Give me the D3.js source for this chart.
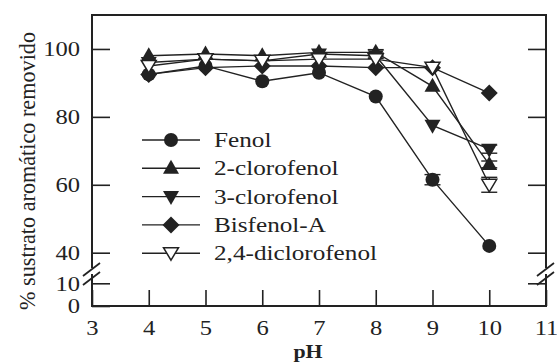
<!DOCTYPE html>
<html><head><meta charset="utf-8">
<script src="https://cdn.jsdelivr.net/npm/d3@7/dist/d3.min.js"></script>
<style>body{margin:0;background:#fff}svg{display:block}text{font-family:"Liberation Serif","Times New Roman",serif;fill:#222}</style>
</head><body>
<svg id="c" width="557" height="362"></svg>
<script>
const pH = [4,5,6,7,8,9,10];
const xTicks = [3,4,5,6,7,8,9,10,11];
const yTopTicks = [40,60,80,100];
const yBotTicks = [0,10];
const fenol = [92.5,95,90.5,93,86,61.5,42];
const cloro2 = [98,98.5,98,99,99,89,66];
const cloro3 = [96,97,96.5,98.5,98,77.5,70.5];
const bisfenol = [92.5,94.5,95,95,94.5,94.5,87];
const dicloro24 = [95,97,96.5,97,97,94.5,60];
const errFenol = [0,0,0,0,0,1.5,0];
const errCloro2 = [0,0,0,0,0.8,0,1];
const errCloro3 = [0,0,0,0,0.8,0,1.2];
const errBis = [0,0,0,0,0,0,0];
const err24 = [0,0,0,0,0,0,2.2];
const names = ["Fenol","2-clorofenol","3-clorofenol","Bisfenol-A","2,4-diclorofenol"];

const series = [
  {name:names[0], v:fenol, e:errFenol, m:"circle"},
  {name:names[1], v:cloro2, e:errCloro2, m:"up"},
  {name:names[2], v:cloro3, e:errCloro3, m:"down"},
  {name:names[3], v:bisfenol, e:errBis, m:"diamond"},
  {name:names[4], v:dicloro24, e:err24, m:"open"}
];

const L=92, R=546, T=15, B=306;
const SX=1.17;
const x = d3.scaleLinear().domain([3,11]).range([L,R]);
const yTop = d3.scaleLinear().domain([40,110]).range([252.7,T]);
const yBot = d3.scaleLinear().domain([0,10]).range([B,283.3]);
const svg = d3.select("#c");
const ink="#222";

function marker(g, type, cx, cy){
  if(type==="circle") g.append("circle").attr("cx",cx).attr("cy",cy).attr("r",7).attr("fill",ink);
  else if(type==="up") g.append("path").attr("d",`M${cx},${cy-8.5}L${cx+8},${cy+5.5}L${cx-8},${cy+5.5}Z`).attr("fill",ink);
  else if(type==="down") g.append("path").attr("d",`M${cx},${cy+8.5}L${cx+8},${cy-5.5}L${cx-8},${cy-5.5}Z`).attr("fill",ink);
  else if(type==="diamond") g.append("path").attr("d",`M${cx},${cy-8.5}L${cx+8.5},${cy}L${cx},${cy+8.5}L${cx-8.5},${cy}Z`).attr("fill",ink);
  else g.append("path").attr("d",`M${cx},${cy+7}L${cx+7.5},${cy-5.5}L${cx-7.5},${cy-5.5}Z`).attr("fill","#fff").attr("stroke",ink).attr("stroke-width",1.5);
}

// data lines
const line = d3.line().x((d,i)=>x(pH[i])).y(d=>yTop(d));
series.forEach(s=>{
  svg.append("path").datum(s.v).attr("d",line).attr("fill","none").attr("stroke",ink).attr("stroke-width",1.4);
});
// error bars
series.forEach(s=>{
  s.v.forEach((v,i)=>{
    if(!s.e[i]) return;
    const cx=x(pH[i]);
    [v-s.e[i], v+s.e[i]].forEach(e=>{
      svg.append("line").attr("x1",cx-8).attr("x2",cx+8).attr("y1",yTop(e)).attr("y2",yTop(e)).attr("stroke",ink).attr("stroke-width",1.4);
    });
    svg.append("line").attr("x1",cx).attr("x2",cx).attr("y1",yTop(v-s.e[i])).attr("y2",yTop(v+s.e[i])).attr("stroke",ink).attr("stroke-width",1.4);
  });
});
// markers
series.forEach(s=>{
  const g=svg.append("g");
  s.v.forEach((v,i)=>marker(g,s.m,x(pH[i]),yTop(v)));
});

// legend
series.forEach((s,i)=>{
  const ly = 140 + i*28.3;
  svg.append("line").attr("x1",142).attr("x2",200).attr("y1",ly).attr("y2",ly).attr("stroke",ink).attr("stroke-width",1.4);
  marker(svg.append("g"), s.m, 171, ly);
  svg.append("text").attr("transform",`translate(214,${ly}) scale(1.2,1)`).attr("dy","0.33em").attr("font-size",21).text(s.name);
});

// frame
svg.append("rect").attr("x",L).attr("y",T).attr("width",R-L).attr("height",B-T).attr("fill","none").attr("stroke",ink).attr("stroke-width",2);

// axes
function style(g){ g.select(".domain").remove(); g.selectAll(".tick line").attr("stroke",ink).attr("stroke-width",1.6); g.selectAll("text").attr("font-size",21).attr("fill",ink).attr("font-family","Liberation Serif, serif"); }
function yLabels(g){ g.selectAll(".tick text").attr("x",-12/SX).attr("transform",`scale(${SX},1)`); }
svg.append("g").attr("transform",`translate(${L},0)`).call(d3.axisLeft(yTop).tickValues(yTopTicks).tickSizeInner(-18).tickSizeOuter(0).tickPadding(12)).call(style).call(yLabels);
svg.append("g").attr("transform",`translate(${L},0)`).call(d3.axisLeft(yBot).tickValues(yBotTicks).tickSizeInner(-18).tickSizeOuter(0).tickPadding(12)).call(style).call(yLabels);
svg.append("g").attr("transform",`translate(${R},0)`).call(d3.axisRight(yTop).tickValues(yTopTicks).tickSizeInner(-18).tickSizeOuter(0).tickFormat("")).call(style);
svg.append("g").attr("transform",`translate(${R},0)`).call(d3.axisRight(yBot).tickValues([10]).tickSizeInner(-18).tickSizeOuter(0).tickFormat("")).call(style);
svg.append("g").attr("transform",`translate(0,${B})`).call(d3.axisBottom(x).tickValues(xTicks).tickSizeInner(-16).tickSizeOuter(0).tickPadding(14)).call(style)
  .call(g=>g.selectAll(".tick text").attr("transform",`scale(${SX},1)`));

// axis breaks
[L,R].forEach(bx=>{
  svg.append("rect").attr("x",bx-2).attr("y",268).attr("width",4).attr("height",6).attr("fill","#fff");
  [0,9].forEach(o=>{
    svg.append("line").attr("x1",bx-9).attr("y1",276+o).attr("x2",bx+8).attr("y2",263+o).attr("stroke",ink).attr("stroke-width",1.8);
  });
});

// titles
svg.append("text").attr("transform","translate(27,171) rotate(-90) scale(1,1.17)").attr("text-anchor","middle").attr("dy","0.35em").attr("font-size",20)
  .attr("textLength",278).attr("lengthAdjust","spacingAndGlyphs").text("% sustrato aromático removido");
svg.append("text").attr("transform","translate(308,358) scale(1.15,1)").attr("text-anchor","middle").attr("font-size",19).attr("font-weight","bold").text("pH");
</script>
</body></html>
